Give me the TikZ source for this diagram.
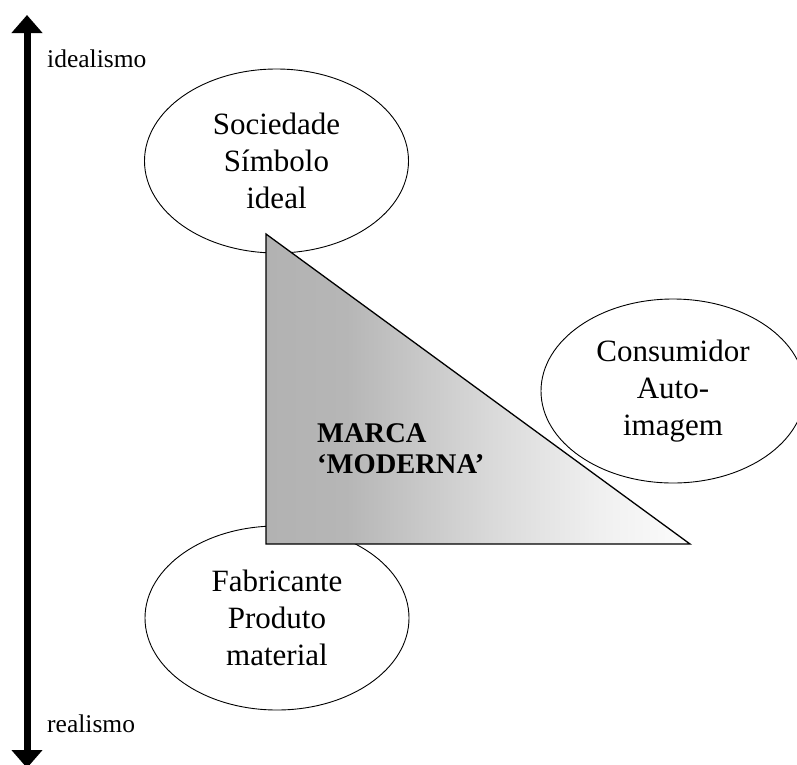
\documentclass[tikz,border=0pt]{standalone}
\usepackage{fontspec}
\setmainfont{Liberation Serif}
\usetikzlibrary{shapes.geometric,arrows.meta}

% grey-to-white ramp for the brand triangle (25bp..75bp spans the path)
\definecolor{tri0}{gray}{0.698}
\definecolor{tri1}{gray}{0.714}
\definecolor{tri2}{gray}{0.863}
\definecolor{tri3}{gray}{0.941}
\definecolor{tri4}{gray}{0.988}
\pgfdeclarehorizontalshading{marcashade}{100bp}{%
  color(0bp)=(tri0); color(25bp)=(tri0); color(34.5bp)=(tri1);
  color(53bp)=(tri2); color(64.5bp)=(tri3); color(75bp)=(tri4);
  color(100bp)=(tri4)}

\tikzset{
  pole/.style={draw, ellipse, fill=white, line width=0.9,
    minimum width=264, minimum height=184, inner sep=0pt,
    align=center, font=\fontsize{31}{37}\selectfont},
  axislabel/.style={anchor=base west, inner sep=0pt,
    font=\fontsize{25.5}{30}\selectfont},
  axisline/.style={line width=7,
    {Triangle[width=30pt,length=18pt]}-{Triangle[width=30pt,length=18pt]}},
  brand/.style={line width=1.3, shading=marcashade},
}

\begin{document}
\begin{tikzpicture}[x=1pt,y=-1pt]
\useasboundingbox (0,0) rectangle (797,764);

% vertical axis: idealism (top) to realism (bottom)
\coordinate (axtop) at (27,15);
\coordinate (axbot) at (27,768);
\draw[axisline] (axtop) -- (axbot);
\node[axislabel] (ideal) at (47,67) {idealismo};
\node[axislabel] (real) at (47,732) {realismo};

% the three poles
\node[pole] (soc) at (276.5,161) {Sociedade\\Símbolo\\ideal};
\node[pole] (fab) at (277,618) {Fabricante\\Produto\\material};
\node[pole] (cons) at (673,391) {Consumidor\\Auto-\\imagem};

% brand triangle
\coordinate (ta) at (266,234);
\coordinate (tb) at (266,544);
\coordinate (tc) at (690,544);
\path[brand, draw, shade] (ta) -- (tb) -- (tc) -- cycle;
\node[anchor=north west, inner sep=0pt, align=left,
  font=\bfseries\fontsize{28.5}{31}\selectfont] (marca) at (317,423)
  {MARCA\\‘MODERNA’};
\end{tikzpicture}
\end{document}
